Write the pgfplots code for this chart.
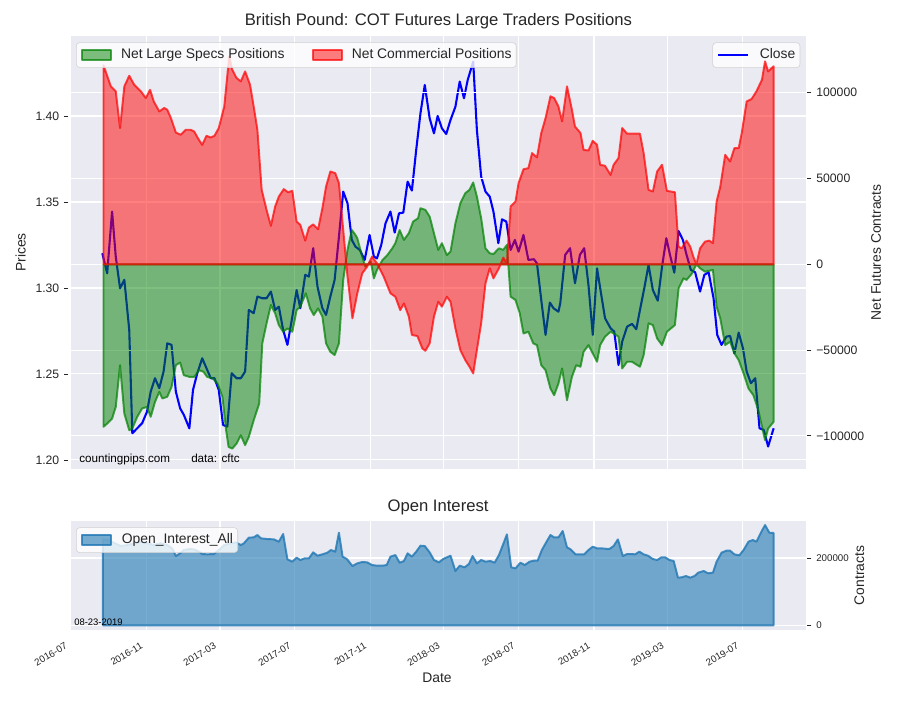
\documentclass[border=0pt]{standalone}
\usepackage{fontspec}
\setmainfont{Liberation Sans}
\usepackage{pgfplots}
\pgfplotsset{compat=1.18}
\definecolor{bgcol}{HTML}{EAEAF2}
\definecolor{txt}{HTML}{262626}
\definecolor{oiblue}{HTML}{1F77B4}
\definecolor{mgreen}{HTML}{008000}
\definecolor{mred}{HTML}{FF0000}
\newcommand{\ticksize}{\fontsize{8.8pt}{10pt}\selectfont}
\newcommand{\labsize}{\fontsize{10pt}{12pt}\selectfont}
\newcommand{\titsize}{\fontsize{12pt}{14pt}\selectfont}
\newcommand{\smallsize}{\fontsize{7pt}{8.4pt}\selectfont}
\pgfplotsset{
  mylegend/.style={legend cell align=left,
    legend style={draw=black!18, fill=white, fill opacity=0.8, text opacity=1,
      rounded corners=2.5pt, font=\labsize, text=txt,
      nodes={inner sep=0pt, text height=7.4pt, text depth=2pt},
      inner xsep=3.4pt, inner ysep=4.3pt}},
  panel/.style={scale only axis, width=529.2pt, xmin=0, xmax=1198.8,
    axis line style={draw=none}, tick align=outside, major tick length=2.9pt,
    major grid style={draw=white, line width=0.8pt},
    /pgf/number format/assume math mode=true},
}
\begin{document}
\begin{tikzpicture}
\path (0pt,0pt) rectangle (648pt,504pt);
% ---------------- top panel: prices ----------------
\begin{axis}[panel, at={(51.12pt,166.54pt)}, anchor=south west, height=311.54pt,
  ymin=1.1949, ymax=1.4465,
  axis background/.style={fill=bgcol},
  xtick={123,243,365,488,608,730,853,973,1095}, xticklabels={},
  xtick style={draw=none},
  ytick={1.20,1.25,1.30,1.35,1.40}, yticklabels={1.20,1.25,1.30,1.35,1.40},
  ytick pos=left,
  ytick style={draw=txt, line width=0.6pt, xshift=-2pt},
  yticklabel style={font=\ticksize, text=txt, xshift=-2pt},
  xmajorgrids, ymajorgrids,
  mylegend, legend style={at={(0.99224,0.9854)}, anchor=north east},
  legend image code/.code={\draw[#1, sharp corners] (0pt,0pt) -- (21pt,0pt); \path (29pt,0pt);},
]
\addplot[blue, line width=1.5pt, line join=round] coordinates {
(51,1.3202) (59,1.3085) (67,1.3444) (73,1.3182) (80,1.2998) (87,1.3047) (95,1.2756) (100,1.2155)
(108,1.2184) (116,1.2213) (124,1.2281) (130,1.2397) (137,1.2475) (144,1.2417) (151,1.2514) (157,1.2678)
(164,1.2669) (171,1.2397) (178,1.2300) (184,1.2262) (193,1.2184) (199,1.2407) (206,1.2504) (214,1.2591)
(221,1.2533) (228,1.2475) (234,1.2475) (241,1.2407) (248,1.2203) (255,1.2194) (262,1.2504) (270,1.2475)
(277,1.2475) (284,1.2514) (290,1.2872) (298,1.2853) (304,1.2950) (312,1.2940) (319,1.2940) (326,1.2979)
(333,1.2872) (339,1.2891) (346,1.2756) (353,1.2669) (361,1.2833) (368,1.2988) (374,1.2882) (382,1.3076)
(388,1.3066) (395,1.3231) (402,1.3008) (410,1.2882) (416,1.2843) (423,1.2950) (430,1.3047) (437,1.3298)
(444,1.3560) (451,1.3492) (458,1.3279) (464,1.3240) (471,1.3221) (479,1.3163) (487,1.3308) (494,1.3182)
(499,1.3172) (506,1.3250) (513,1.3376) (521,1.3444) (528,1.3322) (535,1.3434) (542,1.3438) (549,1.3618)
(556,1.3566) (563,1.3802) (570,1.4016) (577,1.4180) (585,1.3986) (592,1.3899) (598,1.4000) (605,1.3928)
(612,1.3895) (619,1.3977) (627,1.4054) (634,1.4200) (641,1.4103) (647,1.4209) (656,1.4316) (662,1.3919)
(669,1.3647) (676,1.3560) (683,1.3531) (689,1.3444) (697,1.3260) (703,1.3399) (710,1.3386) (717,1.3221)
(724,1.3279) (730,1.3211) (738,1.3308) (746,1.3163) (755,1.3167) (760,1.3143) (767,1.2930) (774,1.2727)
(781,1.2915) (787,1.2882) (795,1.2862) (798,1.2911) (806,1.3192) (814,1.3231) (822,1.3027) (830,1.3192)
(837,1.3231) (844,1.3017) (851,1.2727) (858,1.3114) (864,1.2979) (871,1.2824) (880,1.2766) (886,1.2746)
(893,1.2552) (899,1.2688) (907,1.2775) (915,1.2791) (922,1.2760) (928,1.2872) (935,1.2998) (942,1.3134)
(949,1.2988) (957,1.2926) (964,1.3124) (971,1.3289) (977,1.3192) (984,1.3089) (991,1.3331) (998,1.3279)
(1004,1.3192) (1011,1.3105) (1018,1.3091) (1026,1.2979) (1033,1.3076) (1040,1.3091) (1048,1.2940) (1054,1.2727)
(1061,1.2669) (1069,1.2717) (1075,1.2721) (1082,1.2620) (1089,1.2740) (1096,1.2649) (1102,1.2514) (1109,1.2446)
(1116,1.2475) (1123,1.2184) (1130,1.2174) (1137,1.2078) (1146,1.2184)
};
\addlegendentry{Close}
\end{axis}
% ---------------- top panel: net positions ----------------
\begin{axis}[panel, at={(51.12pt,166.54pt)}, anchor=south west, height=311.54pt,
  ymin=-119110, ymax=133040,
  xtick=\empty,
  ytick={-100000,-50000,0,50000,100000},
  yticklabels={−100000,−50000,0,50000,100000},
  scaled y ticks=false,
  ytick pos=right, yticklabel pos=right,
  ytick style={draw=txt, line width=0.6pt, xshift=1pt},
  yticklabel style={font=\ticksize, text=txt, anchor=west, xshift=1pt},
  ymajorgrids,
  mylegend, legend columns=2,
  legend style={at={(0.0068,0.9854)}, anchor=north west,
    /tikz/every even column/.append style={column sep=19.5pt}},
  legend image code/.code={\draw[#1, sharp corners] (0pt,-3.6pt) rectangle (21pt,3.6pt); \path (27.4pt,0pt);},
]
\addplot[draw=mgreen, draw opacity=0.7, line width=1.4pt, fill=mgreen, fill opacity=0.5, line join=round] coordinates {
(53,-94700) (59,-92800) (67,-89900) (73,-83100) (80,-58800) (87,-87000) (95,-96700) (100,-95700)
(108,-88900) (116,-84000) (124,-83100) (130,-88900) (137,-80200) (144,-74300) (149,-78200) (157,-77200)
(164,-71400) (171,-58800) (178,-57200) (184,-64600) (193,-65600) (201,-65600) (209,-61700) (216,-62600)
(222,-65600) (231,-66500) (239,-69500) (247,-77200) (253,-96700) (257,-106400) (263,-107400) (270,-104500)
(277,-99600) (284,-105400) (290,-100600) (298,-90900) (307,-81100) (312,-46100) (319,-34400) (326,-23700)
(333,-28600) (339,-35400) (346,-39300) (353,-37400) (361,-39300) (368,-26700) (374,-24700) (383,-16900)
(390,-25700) (396,-29600) (403,-25700) (410,-30500) (416,-46100) (423,-51000) (430,-52900) (437,-46100)
(444,-9100) (451,8400) (458,20000) (464,17100) (467,15200) (475,4500) (480,-1400) (489,1600)
(494,-8200) (499,-3300) (508,2500) (516,5400) (524,9300) (529,12300) (536,20000) (543,14200)
(551,18100) (558,24900) (566,26800) (570,32700) (578,31700) (585,27800) (592,18100) (599,8400)
(605,12300) (613,5400) (619,7400) (627,23900) (635,35600) (643,41400) (650,43400) (656,47700)
(662,39500) (669,26800) (676,9300) (683,6400) (689,6000) (698,9300) (705,8400) (711,11300)
(717,-18900) (725,-20800) (732,-28600) (738,-40300) (746,-39300) (754,-46100) (760,-47100) (767,-58800)
(774,-61700) (782,-72400) (788,-76300) (795,-69500) (801,-60700) (809,-79200) (817,-65600) (824,-58800)
(831,-59700) (836,-51000) (844,-47100) (851,-51900) (858,-56800) (863,-47100) (871,-42200) (880,-39300)
(885,-40300) (893,-42200) (899,-60700) (907,-56800) (915,-56800) (928,-59700) (934,-52900) (942,-34400)
(949,-35400) (956,-43200) (964,-47100) (972,-39300) (985,-35400) (991,-14000) (999,-8200) (1004,-9100)
(1013,-5300) (1020,0) (1026,-2300) (1034,-4300) (1047,-3300) (1053,-24700) (1059,-31500) (1067,-47100)
(1075,-45100) (1082,-51900) (1089,-55800) (1097,-63600) (1105,-72400) (1113,-76300) (1121,-85000) (1132,-102500)
(1137,-95700) (1146,-91800)
} \closedcycle;
\addlegendentry{Net Large Specs Positions}
\addplot[draw=mred, draw opacity=0.7, line width=1.4pt, fill=mred, fill opacity=0.5, line join=round] coordinates {
(53,116000) (65,103700) (73,100800) (80,79400) (87,103700) (95,109900) (103,104700) (114,100800)
(122,96900) (129,101700) (135,94900) (144,89100) (152,91100) (157,90100) (163,85200) (171,76800)
(179,75500) (187,78400) (195,78400) (201,77400) (207,73500) (214,69600) (221,74900) (228,73900)
(234,74900) (241,79400) (250,92000) (258,121200) (263,113400) (270,108600) (277,106600) (284,112400)
(292,104700) (298,92000) (304,78400) (311,43400) (319,31700) (326,22400) (333,33700) (339,39500)
(347,43800) (354,42000) (361,42800) (368,24900) (374,23000) (382,13800) (388,21400) (395,23300)
(403,20400) (410,32700) (416,45300) (423,54100) (431,53100) (437,47300) (442,27800) (451,-7200)
(459,-31500) (467,-16900) (475,-5300) (483,-1400) (491,4500) (499,600) (510,-7200) (521,-16900)
(529,-18900) (537,-26700) (543,-22800) (551,-30500) (556,-41200) (565,-41800) (573,-49000) (578,-50400)
(585,-46100) (592,-30500) (599,-21800) (605,-24700) (613,-18900) (619,-21800) (627,-37400) (635,-50000)
(643,-55800) (650,-59700) (656,-63600) (662,-50000) (669,-34400) (676,-11100) (683,-2300) (689,-8200)
(698,-2300) (705,3900) (711,600) (717,33700) (725,36600) (730,47300) (738,55400) (746,56000)
(752,64800) (760,62300) (767,76500) (774,85200) (782,97900) (788,96900) (795,92000) (801,83300)
(809,103700) (817,90100) (822,80300) (831,76500) (836,66700) (844,66300) (851,72000) (858,69600)
(863,58000) (871,57400) (880,52100) (885,58000) (893,61900) (899,79400) (907,76100) (928,76100)
(934,64800) (942,43400) (949,42400) (956,54100) (964,58000) (972,42800) (985,42000) (991,10300)
(996,9300) (1004,13800) (1010,10300) (1015,4500) (1020,0) (1026,9300) (1034,13200) (1041,13800)
(1047,12300) (1053,36600) (1059,45300) (1067,63800) (1075,59900) (1082,67700) (1089,67700) (1094,76500)
(1102,94900) (1110,96300) (1118,100800) (1127,107600) (1132,118300) (1137,112400) (1146,115400)
} \closedcycle;
\addlegendentry{Net Commercial Positions}
\end{axis}
% ---------------- bottom panel: open interest ----------------
\begin{axis}[panel, at={(51.12pt,50.4pt)}, anchor=south west, height=78.48pt,
  ymin=-13968, ymax=309955,
  axis background/.style={fill=bgcol},
  xtick={123,243,365,488,608,730,853,973,1095},
  xticklabels={2016-11,2017-03,2017-07,2017-11,2018-03,2018-07,2018-11,2019-03,2019-07},
  extra x ticks={0}, extra x tick labels={2016-07}, extra x tick style={xmajorgrids=false},
  xtick style={draw=none},
  xticklabel style={font=\smallsize, text=txt, xshift=-3.4pt, yshift=-1.2pt, rotate=30, anchor=north east},
  ytick={0,200000}, yticklabels={0,200000}, scaled y ticks=false,
  ytick pos=right, yticklabel pos=right,
  ytick style={draw=txt, line width=0.6pt, xshift=1pt},
  yticklabel style={font=\smallsize, text=txt, anchor=west, xshift=1pt},
  xmajorgrids, ymajorgrids,
  mylegend, legend style={at={(0.0068,0.942)}, anchor=north west},
  legend image code/.code={\draw[#1, sharp corners] (0pt,-3.6pt) rectangle (21pt,3.6pt); \path (28pt,0pt);},
]
\addplot[draw=oiblue, draw opacity=0.8, line width=1.4pt, fill=oiblue, fill opacity=0.6, line join=round] coordinates {
(52,255400) (61,253400) (70,245500) (81,235600) (92,238600) (103,243600) (114,248500) (125,243600)
(135,238600) (146,243600) (157,238600) (165,228700) (171,205900) (178,213900) (184,223800) (193,226700)
(201,225700) (209,218800) (214,211900) (222,210900) (233,211900) (241,223800) (250,238600) (260,243600)
(269,246500) (277,238600) (282,243600) (290,260400) (298,261400) (304,268300) (310,258400) (320,256400)
(331,255400) (339,248500) (346,271300) (353,196000) (361,189100) (368,201000) (374,194100) (381,199000)
(388,199000) (395,216800) (402,206900) (410,210900) (418,215800) (424,223800) (431,218800) (437,275200)
(443,204000) (450,197000) (459,176200) (467,184200) (475,188100) (483,187100) (491,179200) (499,177200)
(508,177200) (515,179200) (521,204000) (529,208900) (536,186100) (543,191100) (549,213900) (556,204000)
(563,218800) (570,236600) (577,235600) (585,216800) (592,194100) (600,187100) (607,197000) (619,206900)
(627,161400) (634,177200) (642,172300) (649,182200) (655,205900) (662,184200) (669,194100) (676,189100)
(684,191100) (691,186100) (698,208900) (705,241600) (711,270300) (718,172300) (725,169300) (733,186100)
(740,179200) (748,189100) (755,192100) (761,192100) (768,223800) (775,246500) (782,268300) (788,261400)
(795,261400) (802,280200) (809,231700) (815,225700) (823,210900) (830,210900) (837,210900) (844,223800)
(851,233700) (858,228700) (865,228700) (871,227700) (878,226700) (885,235600) (892,255400) (900,205900)
(907,211900) (914,211900) (920,210900) (927,218800) (934,210900) (941,206900) (949,197000) (956,194100)
(963,202000) (969,202000) (976,194100) (983,191100) (990,141600) (996,142600) (1003,146500) (1010,141600)
(1017,146500) (1023,156400) (1032,161400) (1039,154500) (1047,156400) (1053,189100) (1061,215800) (1069,221800)
(1075,221800) (1082,210900) (1090,207900) (1097,223800) (1105,248500) (1112,253500) (1118,248500) (1126,278200)
(1132,298000) (1139,275200) (1146,274300)
} \closedcycle;
\addlegendentry{Open\_Interest\_All}
\end{axis}
% ---------------- texts ----------------
\node[font=\titsize, text=txt, anchor=base] at (315.7pt,485.3pt) {British Pound: COT Futures Large Traders Positions};
\node[font=\labsize, text=txt, rotate=90] at (14.8pt,322.3pt) {Prices};
\node[font=\labsize, text=txt, rotate=90] at (630.7pt,322.3pt) {Net Futures Contracts};
\node[font=\fontsize{8.4pt}{10pt}\selectfont, anchor=base west, inner sep=0pt] at (56.9pt,170.9pt) {countingpips.com};
\node[font=\fontsize{8.4pt}{10pt}\selectfont, anchor=base west, inner sep=0pt] at (137.5pt,170.9pt) {data: cftc};
\node[font=\titsize, text=txt, anchor=base] at (315.4pt,135.4pt) {Open Interest};
\node[font=\labsize, text=txt, rotate=90] at (618.8pt,89.6pt) {Contracts};
\node[font=\labsize, text=txt, anchor=base] at (314.6pt,12.6pt) {Date};
\node[font=\fontsize{6.8pt}{8pt}\selectfont, anchor=base west, inner sep=0pt] at (53.3pt,54pt) {08-23-2019};
\end{tikzpicture}
\end{document}
